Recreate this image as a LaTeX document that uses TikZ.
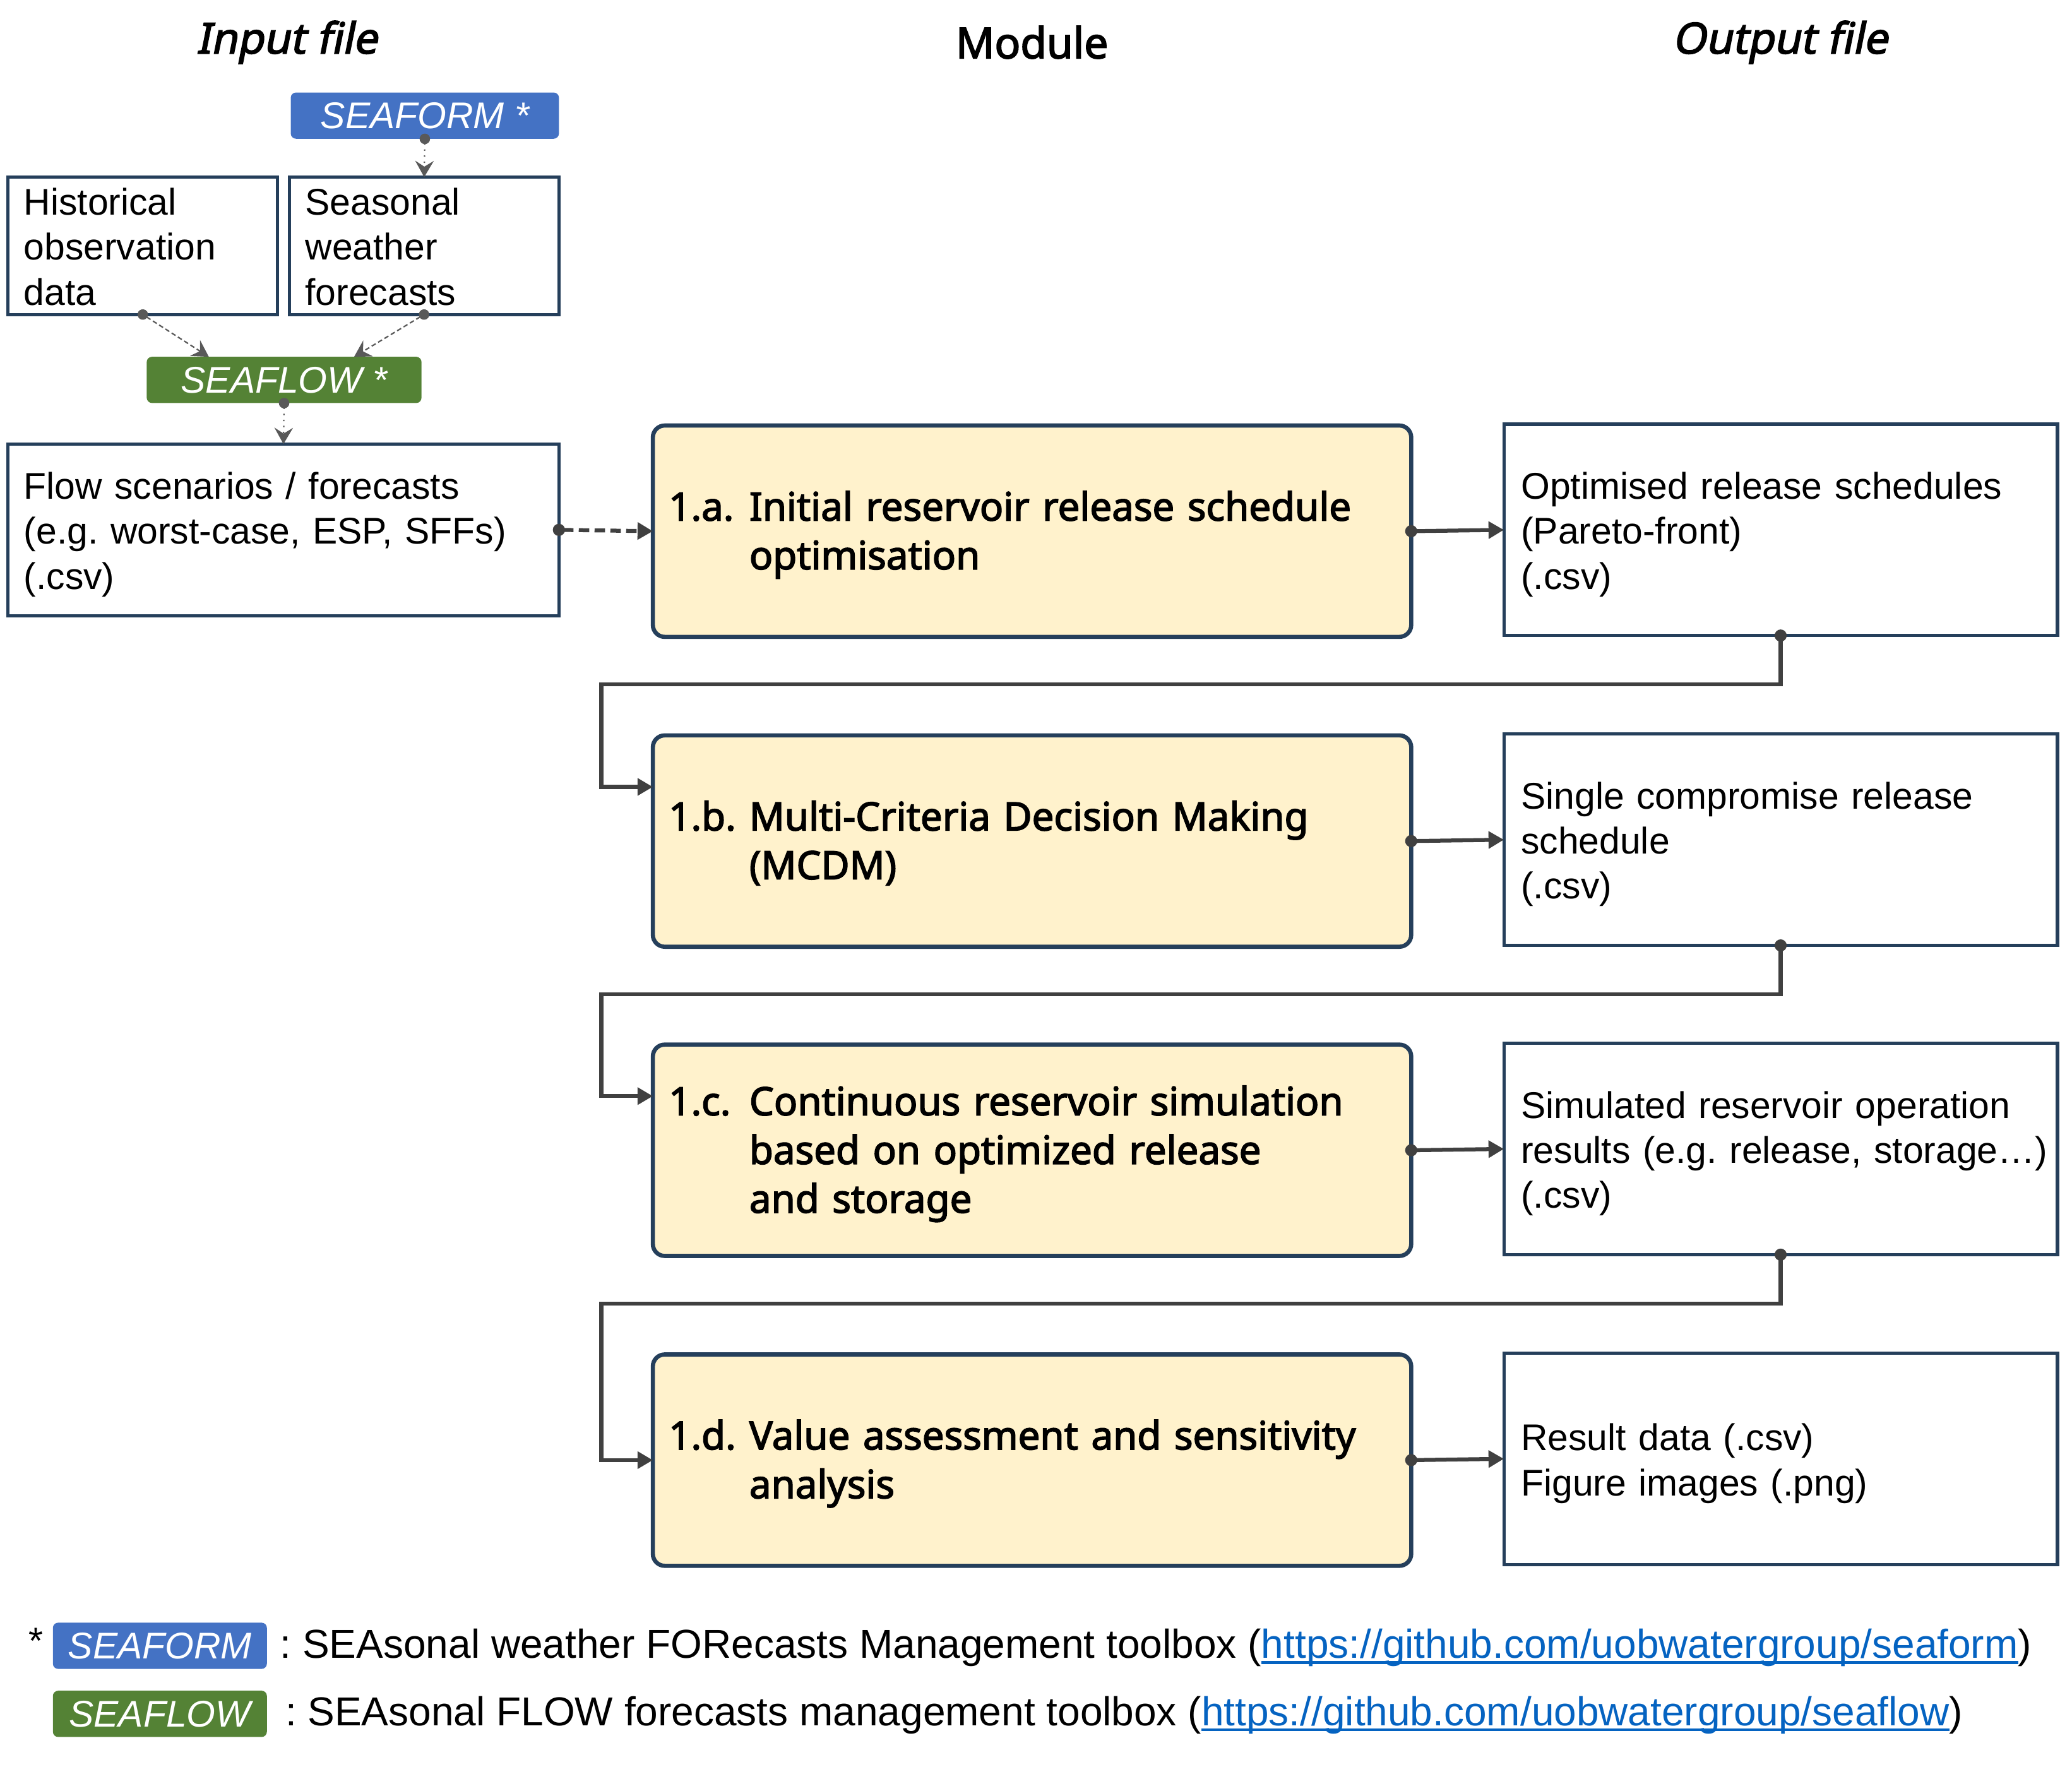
\documentclass[tikz,border=0pt]{standalone}
\usepackage{fontspec}
\setmainfont{Liberation Sans}
\newfontfamily\modfont{Noto Sans}[AutoFakeBold=2.6]
\newfontfamily\headital{Noto Sans}[FakeBold=2.6, FakeSlant=0.2]
\usetikzlibrary{arrows.meta,calc,positioning}

\definecolor{navy}{HTML}{253F5B}
\definecolor{formblue}{HTML}{4472C4}
\definecolor{flowgreen}{HTML}{548235}
\definecolor{modfill}{HTML}{FFF2CC}
\definecolor{wire}{HTML}{404040}
\definecolor{hint}{HTML}{595959}
\definecolor{urlblue}{HTML}{0563C1}

\newcommand{\bodysize}{\fontsize{16}{19.35}\selectfont}
\newcommand{\modsize}{\fontsize{16.8}{21}\selectfont}
\newcommand{\headsize}{\fontsize{18.4}{21}\selectfont}
\newcommand{\notesize}{\fontsize{17.4}{20}\selectfont}
\newcommand{\modtext}[2]{\begin{tabular}{@{}p{1.22cm}@{}l@{}}\rule{0pt}{18.1pt}#1 & #2\end{tabular}}
\newcommand{\weblink}[1]{{\color{urlblue}\setbox0\hbox{#1}\rlap{\rule[-2.4pt]{\wd0}{1.1pt}}\box0}}
\frenchspacing

\begin{document}
\begin{tikzpicture}[
        x=0.02cm, y=-0.02cm,
        every node/.style={inner sep=0pt, outer sep=0pt},
        textlines/.style={execute at begin node={\rule{0pt}{15.7pt}},
            execute at end node={\rule[-3.4pt]{0pt}{0pt}}},
        inbox/.style={draw=navy, line width=1.4pt, fill=white, inner xsep=0.24cm,
            align=left, font=\bodysize, textlines},
        modbox/.style={draw=navy, line width=1.8pt, fill=modfill, rounded corners=0.18cm,
            minimum width=11.48cm, minimum height=3.2cm, inner xsep=0.24cm,
            text width=11cm, align=left, font=\modsize\modfont\bfseries},
        outbox/.style={draw=navy, line width=1.4pt, fill=white, minimum width=8.38cm,
            minimum height=3.2cm, inner xsep=0.26cm, text width=7.86cm,
            align=left, font=\bodysize, textlines},
        tool/.style={fill=#1, rounded corners=0.08cm, minimum height=0.7cm,
            text=white, font=\bodysize\itshape},
        head/.style={font=\headsize\modfont\bfseries},
        wire/.style={draw=wire, line width=1.7pt, shorten <=-2.6pt,
            {Circle[length=5.2pt]}-{Triangle[length=6.6pt,width=7.2pt]}},
        hintline/.style={draw=hint, line width=0.6pt, shorten <=-2.2pt,
            {Circle[length=4.5pt]}-{Stealth[length=7pt,width=8pt,inset=2.5pt]}}
    ]
    \useasboundingbox (0,0) rectangle (1568,1336.8);

    % column titles
    \node[head] (hin) at (217,32) {\headital Input file};
    \node[head] (hmod) at (781,32) {Module};
    \node[head] (hout) at (1347,32) {\headital Output file};

    % input side
    \node[tool=formblue, minimum width=4.06cm] (form) at (321.5,87.5) {SEAFORM *};
    \node[inbox, minimum width=4.08cm, minimum height=2.08cm, text width=3.6cm]
        (hist) at (108,186) {Historical\\observation\\data};
    \node[inbox, minimum width=4.08cm, minimum height=2.08cm, text width=3.6cm]
        (seas) at (321,186) {Seasonal\\weather\\forecasts};
    \node[tool=flowgreen, minimum width=4.16cm] (flowtool) at (215,287.5) {SEAFLOW *};
    \node[inbox, minimum width=8.34cm, minimum height=2.6cm, text width=7.86cm]
        (scen) at (214.5,401) {Flow scenarios / forecasts\\(e.g. worst-case, ESP, SFFs)\\(.csv)};

    \draw[hintline, dotted] (form.south) -- (seas.north);
    \draw[hintline, dashed, dash pattern=on 2pt off 1.2pt] (hist.south) -- ([xshift=-1.14cm]flowtool.north);
    \draw[hintline, dashed, dash pattern=on 2pt off 1.2pt] (seas.south) -- ([xshift=1.06cm]flowtool.north);
    \draw[hintline, dotted] (flowtool.south) -- (scen.north);

    % modules
    \node[modbox] (mod1) at (781,402) {\modtext{1.a.}{Initial reservoir release schedule\\ & optimisation}};
    \node[modbox] (mod2) at (781,636.5) {\modtext{1.b.}{Multi-Criteria Decision Making\\ & (MCDM)}};
    \node[modbox] (mod3) at (781,870.5) {\modtext{1.c.}{Continuous reservoir simulation\\ & based on optimized release\\ & and storage}};
    \node[modbox] (mod4) at (781,1105) {\modtext{1.d.}{Value assessment and sensitivity\\ & analysis}};

    % output side
    \node[outbox] (out1) at (1347.5,401) {Optimised release schedules\\(Pareto-front)\\(.csv)};
    \node[outbox] (out2) at (1347.5,635.5) {Single compromise release\\schedule\\(.csv)};
    \node[outbox] (out3) at (1347.5,869.5) {Simulated reservoir operation\\\mbox{results (e.g. release, storage…)}\\(.csv)};
    \node[outbox] (out4) at (1347.5,1104) {Result data (.csv)\\Figure images (.png)};

    \draw[wire, dashed, dash pattern=on 4.5pt off 2.3pt] (scen.east) -- (mod1.west);
    \draw[wire] (mod1.east) -- (out1.west);
    \draw[wire] (mod2.east) -- (out2.west);
    \draw[wire] (mod3.east) -- (out3.west);
    \draw[wire] (mod4.east) -- (out4.west);

    \draw[wire] (out1.south) -- ++(0,37) -| ($(mod2.north west)+(-39,39)$) -- ($(mod2.north west)+(0,39)$);
    \draw[wire] (out2.south) -- ++(0,37) -| ($(mod3.north west)+(-39,39)$) -- ($(mod3.north west)+(0,39)$);
    \draw[wire] (out3.south) -- ++(0,37) -| ($(mod4.west)+(-39,0)$) -- (mod4.west);

    % legend
    \node[font=\bodysize] (star) at (27,1242) {*};
    \node[tool=formblue, minimum width=3.24cm] (keyform) at (121,1245.5) {SEAFORM};
    \node[tool=flowgreen, minimum width=3.24cm] (keyflow) at (121,1297) {SEAFLOW};
    \node[font=\notesize, anchor=west] (noteform) at (212,1247)
        {: SEAsonal weather FORecasts Management toolbox (\weblink{https://github.com/uobwatergroup/seaform})};
    \node[font=\notesize, anchor=west] (noteflow) at (216,1298)
        {: SEAsonal FLOW forecasts management toolbox (\weblink{https://github.com/uobwatergroup/seaflow})};
\end{tikzpicture}
\end{document}
